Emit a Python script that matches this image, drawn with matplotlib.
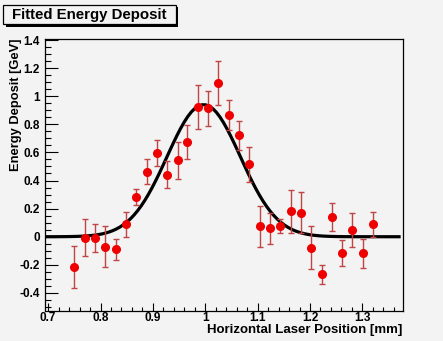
import numpy as np
import matplotlib
matplotlib.use('Agg')
import matplotlib.pyplot as plt
from matplotlib.patches import Rectangle
from matplotlib.ticker import MultipleLocator, FuncFormatter

plt.rcParams['font.family'] = ['Liberation Sans', 'DejaVu Sans']
plt.rcParams['font.weight'] = 'bold'

# posizioni del laser [mm] e deposito di energia misurato [GeV]
posizioni = [0.750, 0.770, 0.789, 0.809, 0.829, 0.848, 0.868, 0.888, 0.907, 0.927,
             0.947, 0.966, 0.986, 1.006, 1.025, 1.045, 1.065, 1.084, 1.104, 1.124,
             1.143, 1.163, 1.183, 1.202, 1.222, 1.242, 1.261, 1.281, 1.301, 1.320]
energia = [-0.218, -0.007, -0.012, -0.071, -0.088, 0.088, 0.283, 0.463, 0.596, 0.441,
           0.544, 0.676, 0.925, 0.914, 1.096, 0.868, 0.722, 0.515, 0.074, 0.060,
           0.078, 0.181, 0.169, -0.078, -0.268, 0.140, -0.118, 0.048, -0.118, 0.088]
errori = [0.150, 0.130, 0.100, 0.145, 0.075, 0.088, 0.060, 0.088, 0.093, 0.096,
          0.130, 0.120, 0.155, 0.125, 0.155, 0.105, 0.105, 0.125, 0.145, 0.110,
          0.050, 0.153, 0.146, 0.153, 0.065, 0.097, 0.093, 0.118, 0.103, 0.089]

# parametri del fit gaussiano
ampiezza = 0.94
media = 0.997
sigma = 0.070
fit_min, fit_max = 0.693, 1.370

W, H = 443, 341
fig = plt.figure(figsize=(W / 100, H / 100), dpi=100)
fig.patch.set_facecolor('#f3f3f3')
ax = fig.add_axes([44.5 / W, 1 - 311.2 / H, 358.2 / W, 272.6 / H])
ax.set_facecolor('#f3f3f3')

xx = np.linspace(fit_min, fit_max, 100)
yy = ampiezza * np.exp(-0.5 * ((xx - media) / sigma) ** 2)
ax.plot(xx, yy, color='black', lw=2.3, zorder=2)

ax.errorbar(posizioni, energia, yerr=errori, fmt='none', ecolor='#c04545',
            elinewidth=1.0, capsize=2.4, capthick=1.0, zorder=3)
ax.plot(posizioni, energia, 'o', color='#ee0000', ms=5.5, mec='#ee0000', zorder=4)

ax.set_xlim(0.693, 1.377)
ax.set_ylim(-0.53, 1.41)

ax.xaxis.set_major_locator(MultipleLocator(0.1))
ax.xaxis.set_minor_locator(MultipleLocator(0.02))
ax.yaxis.set_major_locator(MultipleLocator(0.2))
ax.yaxis.set_minor_locator(MultipleLocator(0.05))
fmt = FuncFormatter(lambda v, p: '%g' % round(v, 2))
ax.xaxis.set_major_formatter(fmt)
ax.yaxis.set_major_formatter(fmt)

ax.tick_params(axis='x', which='major', direction='in', length=6, width=0.8,
               labelsize=8.5, pad=0.6, top=False)
ax.tick_params(axis='x', which='minor', direction='in', length=3, width=0.8, top=False)
ax.tick_params(axis='y', which='major', direction='in', length=9, width=0.8,
               labelsize=8.5, pad=3.5, right=False)
ax.tick_params(axis='y', which='minor', direction='in', length=4.5, width=0.8, right=False)
for lab in ax.get_xticklabels() + ax.get_yticklabels():
    lab.set_fontweight('bold')
for s in ax.spines.values():
    s.set_linewidth(0.9)

ax.set_xlabel('Horizontal Laser Position [mm]', fontsize=9.5, fontweight='bold', loc='right')
ax.xaxis.set_label_coords(1.0, -0.046)
ax.set_ylabel('Energy Deposit [GeV]', fontsize=9.3, fontweight='bold', loc='top')
ax.yaxis.set_label_coords(-0.063, 1.0)

# riquadro del titolo con ombra
ombra = Rectangle((6.3 / W, 1 - 26.7 / H), 172 / W, 20 / H, transform=fig.transFigure,
                  facecolor='black', edgecolor='none')
box = Rectangle((3.3 / W, 1 - 24.3 / H), 172.5 / W, 19.3 / H, transform=fig.transFigure,
                facecolor='#f3f3f3', edgecolor='black', lw=0.9)
fig.patches.extend([ombra, box])
fig.text(12 / W, 1 - 14.5 / H, 'Fitted Energy Deposit', fontsize=10.8, fontweight='bold',
         ha='left', va='center')

fig.savefig('out.png', dpi=100, facecolor=fig.get_facecolor())
